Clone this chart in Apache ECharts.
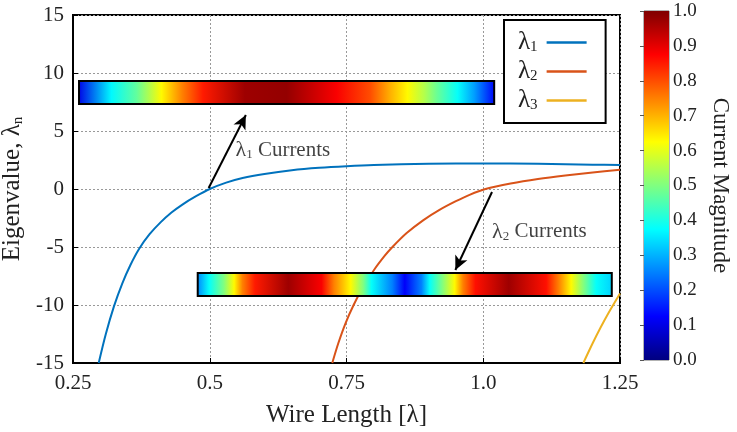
<!DOCTYPE html>
<html><head><meta charset="utf-8">
<script src="https://cdn.jsdelivr.net/npm/echarts@6/dist/echarts.min.js"></script>
<style>html,body{margin:0;padding:0;background:#fff}#c{width:737px;height:432px}</style>
</head><body><div id="c"></div>
<script>
// ---------- data ----------
const xTickLabels = ['0.25', '0.5', '0.75', '1.0', '1.25'];
const lambda1 = [[0.297,-15],[0.31,-12.5],[0.325,-10.1],[0.34,-8.15],[0.355,-6.55],[0.371,-5.15],[0.39,-3.9],[0.41,-2.88],[0.43,-2.03],[0.45,-1.34],[0.475,-0.62],[0.5,0],[0.53,0.55],[0.56,0.95],[0.6,1.3],[0.65,1.62],[0.7,1.83],[0.75,1.97],[0.8,2.07],[0.9,2.17],[1.0,2.2],[1.1,2.17],[1.2,2.1],[1.25,2.07]];
const lambda2 = [[0.724,-15],[0.735,-13.3],[0.748,-11.6],[0.763,-10],[0.78,-8.5],[0.8,-7.0],[0.82,-5.75],[0.834,-5.0],[0.86,-3.8],[0.89,-2.7],[0.92,-1.8],[0.95,-1.05],[0.975,-0.5],[1.004,0],[1.05,0.48],[1.1,0.87],[1.15,1.17],[1.2,1.42],[1.25,1.66]];
const lambda3 = [[1.183,-15],[1.2,-13.3],[1.215,-11.9],[1.23,-10.6],[1.25,-9.0]];
// current strips: [xStart, xEnd, yBottom, yTop, stripIndex]
const strips = [[0.261,1.02,7.33,9.31,0],[0.478,1.235,-9.22,-7.24,1]];
const strip1Pos = [0,0.08,0.14,0.2,0.25,0.3,0.4,0.5,0.62,0.7,0.75,0.79,0.83,0.86,0.91,0.95,1.0];
const strip1Mag = [0.1,0.37,0.47,0.63,0.75,0.85,0.97,0.98,0.88,0.8,0.7,0.63,0.55,0.48,0.38,0.28,0.12];
const strip2Pos = [0,0.03,0.065,0.09,0.11,0.14,0.22,0.3,0.33,0.37,0.4,0.42,0.47,0.5,0.54,0.56,0.59,0.62,0.64,0.67,0.75,0.84,0.87,0.9,0.93,0.96,1.0];
const strip2Mag = [0.25,0.38,0.5,0.63,0.75,0.85,0.97,0.88,0.75,0.63,0.5,0.38,0.25,0.12,0.25,0.38,0.5,0.63,0.75,0.86,0.97,0.86,0.75,0.63,0.5,0.38,0.33];
const arrows = [[[0.498,0.09],[0.566,6.38]],[[1.016,-0.26],[0.949,-6.98]]];
const annotations = [[0.547,3.36,'1'],[1.016,-3.7,'2']];

// ---------- helpers ----------
const FONT = 'Liberation Serif';
function jet(t){
  const c = v => Math.max(0, Math.min(1, v));
  const r = c(1.5 - Math.abs(4*t - 3)), g = c(1.5 - Math.abs(4*t - 2)), b = c(1.5 - Math.abs(4*t - 1));
  return 'rgb(' + Math.round(r*255) + ',' + Math.round(g*255) + ',' + Math.round(b*255) + ')';
}
const stripPos = [strip1Pos, strip2Pos], stripMag = [strip1Mag, strip2Mag];

const chart = echarts.init(document.getElementById('c'));
const cbStops = [];
for (let k = 0; k <= 64; k++) cbStops.push({offset: k/64, color: jet(1 - k/64)});

const lineCommon = {type: 'line', smooth: 0.3, showSymbol: false, symbol: 'none', z: 3};

const option = {
  animation: false,
  textStyle: {fontFamily: FONT},
  grid: [
    {left: 73, right: 117, top: 15, bottom: 69, show: true, borderColor: '#000', borderWidth: 2, backgroundColor: 'transparent', outerBoundsMode: 'none', containLabel: false},
    {left: 644, width: 25, top: 11, height: 349, show: true, borderColor: '#666', borderWidth: 1, outerBoundsMode: 'none', containLabel: false}
  ],
  xAxis: [
    {type: 'value', gridIndex: 0, min: 0.25, max: 1.25, interval: 0.25,
     name: 'Wire Length [λ]', nameLocation: 'middle', nameGap: 40,
     nameTextStyle: {fontFamily: FONT, fontSize: 25, color: '#222'},
     axisLine: {show: true, onZero: false, lineStyle: {color: '#000', width: 2}},
     axisTick: {show: true, inside: true, length: 5, lineStyle: {color: '#000'}},
     axisLabel: {fontFamily: FONT, fontSize: 21, color: '#222', margin: 10,
       formatter: v => xTickLabels[Math.round((v - 0.25) / 0.25)]},
     splitLine: {show: true, lineStyle: {color: '#999', type: [2, 2], width: 1}}},
    {type: 'value', gridIndex: 1, min: 0, max: 1, show: false}
  ],
  yAxis: [
    {type: 'value', gridIndex: 0, min: -15, max: 15, interval: 5,
     name: '{a|Eigenvalue, λ}{b|n}', nameLocation: 'middle', nameGap: 34,
     nameTextStyle: {color: '#222', rich: {a: {fontFamily: FONT, fontSize: 25, color: '#222'}, b: {fontFamily: FONT, fontSize: 15, color: '#222', verticalAlign: 'bottom'}}},
     axisLine: {show: true, onZero: false, lineStyle: {color: '#000', width: 2}},
     axisTick: {show: true, inside: true, length: 5, lineStyle: {color: '#000'}},
     axisLabel: {fontFamily: FONT, fontSize: 21, color: '#222', margin: 9},
     splitLine: {show: true, lineStyle: {color: '#999', type: [2, 2], width: 1}}},
    {type: 'value', gridIndex: 1, min: 0, max: 1, interval: 0.1, position: 'right',
     name: 'Current Magnitude', nameLocation: 'middle', nameGap: 40, nameRotate: -90,
     nameTextStyle: {fontFamily: FONT, fontSize: 23, color: '#222'},
     axisLine: {show: false}, axisTick: {show: true, inside: true, length: 4, lineStyle: {color: '#555'}},
     axisLabel: {fontFamily: FONT, fontSize: 19, color: '#222', margin: 4, formatter: v => v.toFixed(1)},
     splitLine: {show: false}}
  ],
  legend: {
    orient: 'vertical', left: 504, top: 20, align: 'right',
    icon: 'rect', itemWidth: 40, itemHeight: 2.5, itemGap: 4,
    padding: [10, 19, 10, 14],
    borderColor: '#000', borderWidth: 2, backgroundColor: '#fff',
    formatter: name => '{a|λ}{b|' + name.slice(1) + '}',
    textStyle: {rich: {a: {fontFamily: FONT, fontSize: 25, color: '#222', lineHeight: 24}, b: {fontFamily: FONT, fontSize: 15, color: '#222', verticalAlign: 'bottom', padding: [0, 4, 0, 0]}}},
    data: ['λ1', 'λ2', 'λ3']
  },
  series: [
    Object.assign({name: 'λ1', data: lambda1, lineStyle: {color: '#0072BD', width: 2}, itemStyle: {color: '#0072BD'}}, lineCommon),
    Object.assign({name: 'λ2', data: lambda2, lineStyle: {color: '#D95319', width: 2}, itemStyle: {color: '#D95319'}}, lineCommon),
    Object.assign({name: 'λ3', data: lambda3, lineStyle: {color: '#EDB120', width: 2}, itemStyle: {color: '#EDB120'}}, lineCommon),
    {type: 'custom', data: strips, encode: {x: [0, 1], y: [2, 3]}, z: 5, clip: false,
     renderItem: (params, api) => {
       const i = api.value(4);
       const p0 = api.coord([api.value(0), api.value(3)]);
       const p1 = api.coord([api.value(1), api.value(2)]);
       const stops = stripPos[i].map((t, k) => ({offset: t, color: jet(stripMag[i][k])}));
       return {type: 'rect', shape: {x: p0[0], y: p0[1], width: p1[0] - p0[0], height: p1[1] - p0[1]},
         style: {fill: new echarts.graphic.LinearGradient(0, 0, 1, 0, stops), stroke: '#000', lineWidth: 2}};
     }},
    {type: 'scatter', data: annotations, symbolSize: 0, z: 6,
     label: {show: true, position: [0, 0], align: 'left', verticalAlign: 'middle',
       formatter: p => '{a|λ}{b|' + p.value[2] + '}{c| Currents}',
       rich: {a: {fontFamily: FONT, fontSize: 22, color: '#111'}, b: {fontFamily: FONT, fontSize: 13, color: '#111', verticalAlign: 'bottom'}, c: {fontFamily: FONT, fontSize: 21, color: '#111'}}},
     markLine: {silent: true, symbol: ['none', 'arrow'], symbolSize: [10, 14], animation: false,
       lineStyle: {color: '#000', width: 2, type: 'solid'}, label: {show: false},
       data: arrows.map(a => [{coord: a[0]}, {coord: a[1]}])}},
    {type: 'custom', xAxisIndex: 1, yAxisIndex: 1, data: [[0, 1, 0, 1]], encode: {x: [0, 1], y: [2, 3]},
     renderItem: (params, api) => {
       const p0 = api.coord([api.value(0), api.value(3)]);
       const p1 = api.coord([api.value(1), api.value(2)]);
       return {type: 'rect', shape: {x: p0[0], y: p0[1], width: p1[0] - p0[0], height: p1[1] - p0[1]},
         style: {fill: new echarts.graphic.LinearGradient(0, 0, 0, 1, cbStops)}};
     }}
  ]
};
chart.setOption(option);
</script></body></html>
